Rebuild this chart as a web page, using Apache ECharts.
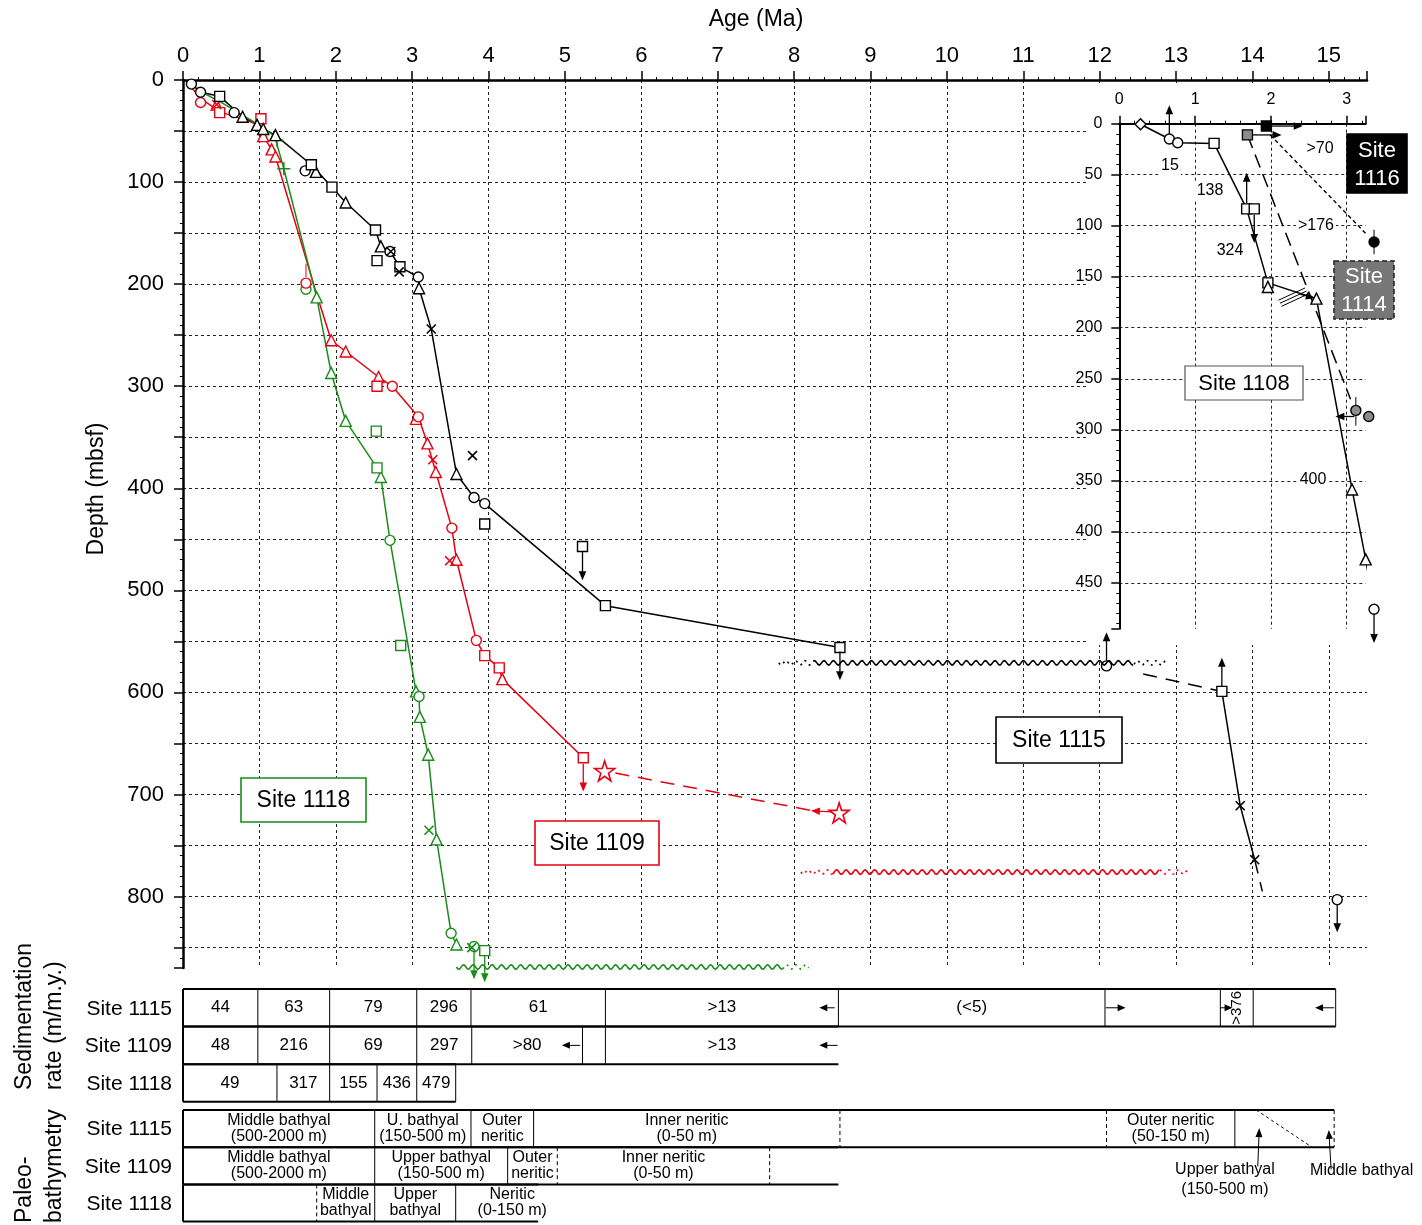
<!DOCTYPE html>
<html><head><meta charset="utf-8">
<script src="https://cdn.jsdelivr.net/npm/echarts@6/dist/echarts.min.js"></script>
<style>html,body{margin:0;padding:0;background:#fff}#c{width:1422px;height:1225px}</style>
</head><body><div id="c"></div>
<script>
const FONT = '"Liberation Sans", Arial, Helvetica, sans-serif';
const BLACK = '#000', RED = '#e60012', GREEN = '#1a8c1a', GRAY = '#8c8c8c';

// ---------- Main chart: Site 1115 (black) ----------
const s1115Line = [[0.11,4],[0.23,12],[0.48,16],[0.78,36],[0.97,44],[1.05,48],[1.21,54],[1.68,83],[1.95,105],[2.13,120],[2.52,147],[2.59,163],[2.71,168],[2.84,183],[3.08,193],[3.09,204],[3.25,244],[3.58,386],[3.81,409],[3.95,415],[5.53,515],[8.6,556]];
const s1115Circles = [[0.11,4],[0.23,12],[0.67,32],[1.6,89],[2.71,168],[3.08,193],[3.81,409],[3.95,415]];
const s1115Squares = [[0.48,16],[1.68,83],[1.95,105],[2.52,147],[2.54,177],[2.84,183],[3.95,435],[5.23,457],[5.53,515],[8.6,556]];
const s1115Triangles = [[0.78,36],[0.97,44],[1.05,48],[1.21,54],[1.74,90],[2.13,120],[2.59,163],[3.09,204],[3.58,386]];
const s1115Crosses = [[2.72,168],[2.83,188],[3.25,244],[3.79,368]];
const s1115DeepLine = [[13.6,599],[13.84,711],[14.03,764]];
const s1115DeepDashA = [[12.57,582],[13.6,599]];
const s1115DeepDashB = [[14.03,764],[14.13,795]];
const s1115DeepCircles = [[12.09,574],[15.11,803]];
const s1115DeepSquares = [[13.6,599]];
const s1115DeepCrosses = [[13.84,711],[14.03,764]];
const s1115Arrows = [[5.23,462,5.23,490],[8.6,560,8.6,588],[12.09,569,12.09,541],[13.6,594,13.6,566],[15.11,808,15.11,835]];
const s1115Hiatus = [[7.8,8.25,12.45,12.87,571]];

// ---------- Main chart: Site 1109 (red) ----------
const s1109Line = [[0.05,2],[0.23,18],[0.48,31],[1.0,44],[1.05,55],[1.16,68],[1.21,75],[1.75,210],[1.94,255],[2.13,266],[2.56,291],[2.74,300],[3.08,330],[3.2,356],[3.31,384],[3.52,439],[3.58,470],[3.84,549],[3.95,564],[4.14,576],[4.18,587],[5.24,664]];
const s1109Circles = [[0.23,22],[1.61,199],[2.74,300],[3.08,330],[3.52,439],[3.84,549]];
const s1109Squares = [[0.48,32],[1.02,38],[2.54,300],[3.95,564],[4.14,576],[5.24,664]];
const s1109Triangles = [[0.44,24],[1.05,55],[1.16,68],[1.21,75],[1.94,255],[2.13,266],[2.56,291],[3.05,332],[3.2,356],[3.31,384],[3.58,470],[4.18,587]];
const s1109Crosses = [[0.44,24],[3.27,372],[3.49,471]];
const s1109Stars = [[5.52,677],[8.59,718]];
const s1109Dash = [[5.66,679],[8.25,716]];
const s1109Arrows = [[5.24,670,5.24,697],[8.5,717,8.22,716]];
const s1109Bars = [[1.61,193,1.61,180]];
const s1109Hiatus = [[8.09,8.5,12.79,13.17,776]];

// ---------- Main chart: Site 1118 (green) ----------
const s1118Line = [[0.1,3],[0.25,12],[0.5,22],[0.95,42],[1.2,55],[1.32,87],[1.75,213],[1.94,287],[2.13,334],[2.54,380],[2.59,389],[2.71,451],[3.05,599],[3.09,604],[3.1,624],[3.21,661],[3.32,744],[3.51,836],[3.58,847]];
const s1118Circles = [[1.61,205],[2.71,451],[3.09,604],[3.51,836],[3.81,849]];
const s1118Squares = [[2.53,344],[2.54,380],[2.85,554],[3.95,853]];
const s1118Triangles = [[1.75,213],[1.94,287],[2.13,334],[2.59,389],[3.05,599],[3.1,624],[3.21,661],[3.32,744],[3.58,847]];
const s1118Crosses = [[3.22,735],[3.78,850]];
const s1118Plus = [[1.23,59],[1.32,87]];
const s1118Arrows = [[3.81,854,3.81,881],[3.95,858,3.95,884]];
const s1118Hiatus = [[3.58,3.58,7.85,8.2,869]];

// ---------- Inset: Sites 1108, 1114, 1116 ----------
const s1108Line = [[0.28,0.5],[0.66,15],[0.77,18.7],[1.25,19.3],[1.68,83.5],[1.96,156],[2.6,171.5],[3.07,358.5],[3.25,427],[3.36,476]];
const s1108Diamonds = [[0.28,0.5]];
const s1108Circles = [[0.66,15],[0.77,18.7],[3.36,476]];
const s1108Squares = [[1.25,19.3],[1.68,83.5],[1.78,83.5],[1.96,156]];
const s1108Triangles = [[1.96,160],[2.6,171.5],[3.07,358.5],[3.25,427]];
const s1108Arrows = [[0.66,10,0.66,-18],[1.68,78,1.68,48],[1.78,89,1.78,117],[3.36,481,3.36,509],[2.38,167,2.58,171]];
const s1108Hatch = [[2.1,173,2.45,161],[2.12,176,2.47,164],[2.14,179,2.49,167]];
const s1114Dash = [[1.69,11],[3.05,270]];
const s1114Squares = [[1.69,11]];
const s1114Circles = [[3.12,281],[3.29,287]];
const s1114Arrows = [[1.74,11,2.14,11],[3.1,287,2.85,287]];
const s1114Bars = [[3.12,268,3.12,296]];
const s1116Dash = [[1.99,11],[3.36,116]];
const s1116Squares = [[1.94,2.3]];
const s1116Circles = [[3.36,116]];
const s1116Arrows = [[1.99,2.3,2.42,2.3]];
const s1116Bars = [[3.36,104,3.36,128]];

// ---------- Sedimentation rate table ----------
const rowNames = ['Site 1115','Site 1109','Site 1118'];
const rate1115Bounds = [0,0.98,1.92,3.06,3.77,5.53,8.58,12.07,13.58,14.01,15.09];
const rate1115Labels = ['44','63','79','296','61','>13','(<5)','','|>376',''];
const rate1115Divs = ['s','s','s','s','s','s','s','s','s','s'];
const rate1109Bounds = [0,0.98,1.92,3.06,3.78,5.23,5.53,8.58];
const rate1109Labels = ['48','216','69','297','>80','','>13'];
const rate1109Divs = ['s','s','s','s','s','s','n'];
const rate1118Bounds = [0,1.23,1.92,2.54,3.06,3.57];
const rate1118Labels = ['49','317','155','436','479'];
const rate1118Divs = ['s','s','s','s','s'];
const rateArrows = [[8.53,0.5,8.33,0.5],[12.08,0.5,12.34,0.5],[13.58,0.5,13.74,0.5],[15.07,0.5,14.82,0.5],[5.2,1.5,4.96,1.5],[8.57,1.5,8.33,1.5]];

// ---------- Paleobathymetry table ----------
const bath1115Bounds = [0,2.51,3.77,4.59,8.6,12.09,13.77,15.07];
const bath1115Labels = ['Middle bathyal\n(500-2000 m)','U. bathyal\n(150-500 m)','Outer\nneritic','Inner neritic\n(0-50 m)','','Outer neritic\n(50-150 m)',''];
const bath1115Divs = ['s','s','s','d','d','s','d'];
const bath1109Bounds = [0,2.51,4.25,4.9,7.68,8.58];
const bath1109Labels = ['Middle bathyal\n(500-2000 m)','Upper bathyal\n(150-500 m)','Outer\nneritic','Inner neritic\n(0-50 m)',''];
const bath1109Divs = ['s','s','d','d','n'];
const bath1118Bounds = [0,1.75,2.51,3.57,5.05];
const bath1118Labels = ['','Middle\nbathyal','Upper\nbathyal','Neritic\n(0-150 m)'];
const bath1118Divs = ['d','s','s','n'];
const bathDiagonal = [[14.05,3.22,14.78,4.21]];
const bathArrows = [[14.07,4.72,14.09,3.7],[15.03,4.8,15.0,3.75]];
const bathNotes = [[13.64,5.08,'Upper bathyal\n(150-500 m)'],[15.43,4.82,'Middle bathyal']];

const tableRows = [
  {name:rowNames[0], y0:0, y1:1, bounds:rate1115Bounds, labels:rate1115Labels, divs:rate1115Divs, end:15.09, fs:17},
  {name:rowNames[1], y0:1, y1:2, bounds:rate1109Bounds, labels:rate1109Labels, divs:rate1109Divs, end:8.58, fs:17},
  {name:rowNames[2], y0:2, y1:3, bounds:rate1118Bounds, labels:rate1118Labels, divs:rate1118Divs, end:3.57, fs:17},
  {name:rowNames[0], y0:3.22, y1:4.21, bounds:bath1115Bounds, labels:bath1115Labels, divs:bath1115Divs, end:15.07, fs:16},
  {name:rowNames[1], y0:4.21, y1:5.2, bounds:bath1109Bounds, labels:bath1109Labels, divs:bath1109Divs, end:8.58, fs:16},
  {name:rowNames[2], y0:5.2, y1:6.19, bounds:bath1118Bounds, labels:bath1118Labels, divs:bath1118Divs, end:4.65, fs:16}
];

// ---------- symbols ----------
const X_SYM = 'path://M0,0L10,10M10,0L0,10';
const PLUS_SYM = 'path://M5,0L5,10M0,5L10,5';
const STAR_SYM = 'path://M50,2L61,36L97,36L68,57L79,92L50,71L21,92L32,57L3,36L39,36Z';

function txtStyle(text, size, fill, align, valign, extra){
  return Object.assign({text:text, fontSize:size, fontFamily:FONT, fill:fill||'#000',
    align:align||'center', verticalAlign:valign||'middle', textAlign:align||'center', textVerticalAlign:valign||'middle'}, extra||{});
}
function path(data, color, gi, dash, width, z){
  return {type:'line', xAxisIndex:gi, yAxisIndex:gi, data:data, symbol:'none', silent:true, z:z||2, clip:false,
    lineStyle:{color:color, width:width||1.5, type:dash||'solid'}};
}
function pts(data, sym, color, fill, size, gi, z, bw){
  return {type:'scatter', xAxisIndex:gi, yAxisIndex:gi, data:data, symbol:sym, symbolSize:size, silent:true, z:z||3, clip:false,
    itemStyle:{color:fill, borderColor:color, borderWidth:bw||1.4, opacity:1}};
}
function arrows(data, color, gi, o){
  o = o || {};
  const head = o.head !== false, hl = o.hl || 9, hw = o.hw || 3.8, lw = o.lw || 1.3;
  return {type:'custom', xAxisIndex:gi, yAxisIndex:gi, data:data, encode:{x:[0,2], y:[1,3]}, clip:false, silent:true, z:o.z||4,
    renderItem:function(params, api){
      const p1 = api.coord([api.value(0), api.value(1)]);
      const p2 = api.coord([api.value(2), api.value(3)]);
      const dx = p2[0]-p1[0], dy = p2[1]-p1[1], len = Math.hypot(dx,dy)||1;
      const ux = dx/len, uy = dy/len;
      const ch = [];
      const e = head ? [p2[0]-ux*hl*0.7, p2[1]-uy*hl*0.7] : p2;
      ch.push({type:'line', shape:{x1:p1[0],y1:p1[1],x2:e[0],y2:e[1]}, style:{stroke:color, lineWidth:lw, lineDash:o.dash||null}});
      if (head){
        const bx = p2[0]-ux*hl, by = p2[1]-uy*hl;
        ch.push({type:'polygon', shape:{points:[[p2[0],p2[1]],[bx-uy*hw,by+ux*hw],[bx+uy*hw,by-ux*hw]]}, style:{fill:color}});
      }
      return {type:'group', children:ch};
    }};
}
function hiatus(data, color, gi){
  return {type:'custom', xAxisIndex:gi, yAxisIndex:gi, data:data, encode:{x:[0,1,2,3], y:4}, clip:false, silent:true, z:4,
    renderItem:function(params, api){
      const y = api.coord([api.value(0), api.value(4)])[1];
      const xs = [0,1,2,3].map(function(i){return api.coord([api.value(i), api.value(4)])[0];});
      const x0 = xs[0];
      const wave = function(a,b){const p=[]; for(let x=a; x<=b+0.01; x+=1){p.push([x, y+2.2*Math.sin(2*Math.PI*(x-x0)/9.5)]);} return p;};
      const ch = [];
      if (xs[1]-xs[0] > 1) ch.push({type:'polyline', shape:{points:wave(xs[0],xs[1])}, style:{stroke:color, lineWidth:1.6, fill:'none', lineDash:[2,4]}});
      ch.push({type:'polyline', shape:{points:wave(xs[1],xs[2])}, style:{stroke:color, lineWidth:1.6, fill:'none'}});
      if (xs[3]-xs[2] > 1) ch.push({type:'polyline', shape:{points:wave(xs[2],xs[3])}, style:{stroke:color, lineWidth:1.6, fill:'none', lineDash:[2,4]}});
      return {type:'group', children:ch};
    }};
}
function tableSeries(){
  return {type:'custom', xAxisIndex:2, yAxisIndex:2, data:tableRows.map(function(r,i){return [0,r.y0];}), encode:{x:0,y:1},
    clip:false, silent:true, z:3,
    renderItem:function(params, api){
      const r = tableRows[params.dataIndex];
      const L = api.coord([0, r.y0]), R = api.coord([r.end, r.y1]);
      const ch = [];
      ch.push({type:'line', shape:{x1:L[0],y1:L[1],x2:R[0],y2:L[1]}, style:{stroke:'#000', lineWidth:2}});
      ch.push({type:'line', shape:{x1:L[0],y1:R[1],x2:R[0],y2:R[1]}, style:{stroke:'#000', lineWidth:2}});
      ch.push({type:'line', shape:{x1:L[0],y1:L[1],x2:L[0],y2:R[1]}, style:{stroke:'#000', lineWidth:2}});
      for (let i=1; i<r.bounds.length; i++){
        const d = r.divs[i-1]; if (d === 'n') continue;
        const x = api.coord([r.bounds[i], r.y0])[0];
        ch.push({type:'line', shape:{x1:x,y1:L[1],x2:x,y2:R[1]}, style:{stroke:'#000', lineWidth:1, lineDash:d==='d'?[4,3]:null}});
      }
      const ym = (L[1]+R[1])/2;
      for (let i=0; i<r.labels.length; i++){
        let t = r.labels[i]; if (!t) continue;
        const xm = (api.coord([r.bounds[i], r.y0])[0] + api.coord([r.bounds[i+1], r.y0])[0])/2;
        if (t.charAt(0) === '|'){
          t = t.slice(1);
          ch.push({type:'text', x:xm, y:ym, rotation:Math.PI/2, style:txtStyle(t, 15, '#000')});
        } else {
          ch.push({type:'text', x:xm, y:ym, style:txtStyle(t, r.fs, '#000', 'center', 'middle', {lineHeight:16})});
        }
      }
      ch.push({type:'text', x:L[0]-11, y:ym+1, style:txtStyle(r.name, 21, '#000', 'right', 'middle')});
      return {type:'group', children:ch};
    }};
}
function notesSeries(){
  return {type:'custom', xAxisIndex:2, yAxisIndex:2, data:bathNotes.map(function(n){return [n[0],n[1]];}), encode:{x:0,y:1},
    clip:false, silent:true, z:3,
    renderItem:function(params, api){
      const p = api.coord([api.value(0), api.value(1)]);
      return {type:'text', x:p[0], y:p[1], style:txtStyle(bathNotes[params.dataIndex][2], 16, '#000', 'center', 'middle', {lineHeight:20})};
    }};
}

// ---------- axes ----------
const gridLine = {show:true, showMinLine:false, showMaxLine:false, lineStyle:{color:'#222', width:1, type:[3,3]}};
const xAxes = [
  {gridIndex:0, type:'value', position:'top', min:0, max:15.5, interval:1,
   axisLine:{show:true, lineStyle:{color:'#000', width:2.5}},
   axisTick:{show:true, inside:false, length:9, lineStyle:{color:'#000', width:1.5}},
   minorTick:{show:true, splitNumber:5, length:3, lineStyle:{color:'#000', width:1}},
   axisLabel:{fontSize:22, fontFamily:FONT, color:'#000', margin:13, formatter:function(v){return (v%1===0)?String(v):'';}},
   splitLine:gridLine},
  {gridIndex:1, type:'value', position:'top', min:0, max:3.25, interval:1, z:3,
   axisLine:{show:true, lineStyle:{color:'#000', width:2}},
   axisTick:{show:true, inside:false, length:8, lineStyle:{color:'#000', width:1.5}},
   minorTick:{show:true, splitNumber:5, length:3, lineStyle:{color:'#000', width:1}},
   axisLabel:{fontSize:16, fontFamily:FONT, color:'#000', margin:16, formatter:function(v){return (v%1===0)?String(v):'';}},
   splitLine:gridLine},
  {gridIndex:2, type:'value', min:0, max:15.5, show:false}
];
const yAxes = [
  {gridIndex:0, type:'value', inverse:true, min:0, max:870, interval:50,
   axisLine:{show:true, lineStyle:{color:'#000', width:2.5}},
   axisTick:{show:true, inside:false, length:9, lineStyle:{color:'#000', width:1.5}},
   minorTick:{show:true, splitNumber:5, length:3, lineStyle:{color:'#000', width:1}},
   axisLabel:{fontSize:22, fontFamily:FONT, color:'#000', margin:19, formatter:function(v){return (v%100===0 && v<=800)?String(v):'';}},
   splitLine:gridLine},
  {gridIndex:1, type:'value', inverse:true, min:0, max:495, interval:50, z:3,
   axisLine:{show:true, lineStyle:{color:'#000', width:2}},
   axisTick:{show:true, inside:false, length:8, lineStyle:{color:'#000', width:1.5}},
   minorTick:{show:true, splitNumber:5, length:3, lineStyle:{color:'#000', width:1}},
   axisLabel:{fontSize:16, fontFamily:FONT, color:'#000', margin:17, formatter:function(v){return (v%50===0 && v<=450)?String(v):'';}},
   splitLine:gridLine},
  {gridIndex:2, type:'value', inverse:true, min:0, max:6.2, show:false}
];

// ---------- annotation graphics ----------
function boxG(x,y,w,h,stroke,fill,text,color,fs,dash,lw){
  return [
    {type:'rect', z:20, shape:{x:x,y:y,width:w,height:h}, style:{fill:fill, stroke:stroke, lineWidth:lw||1.6, lineDash:dash||null}},
    {type:'text', z:21, x:x+w/2, y:y+h/2+1, style:txtStyle(text, fs||23, color||'#000', 'center', 'middle', {lineHeight:28})}
  ];
}
function noteG(x,y,t){
  return {type:'text', z:21, x:x, y:y, style:txtStyle(t, 16, '#000', 'center', 'middle', {backgroundColor:'#fff', padding:[1,2]})};
}
const graphics = [].concat(
  [{type:'rect', z:1, shape:{x:1086,y:84,width:336,height:561}, style:{fill:'#fff'}}],
  [{type:'text', z:21, x:756, y:20, style:txtStyle('Age (Ma)', 23, '#000')}],
  [{type:'text', z:21, x:97, y:489, rotation:Math.PI/2, style:txtStyle('Depth (mbsf)', 23, '#000')}],
  [{type:'text', z:21, x:25, y:1090, rotation:Math.PI/2, style:txtStyle('Sedimentation', 23, '#000', 'left', 'middle')}],
  [{type:'text', z:21, x:55, y:1090, rotation:Math.PI/2, style:txtStyle('rate (m/m.y.)', 23, '#000', 'left', 'middle')}],
  [{type:'text', z:21, x:25, y:1223, rotation:Math.PI/2, style:txtStyle('Paleo-', 23, '#000', 'left', 'middle')}],
  [{type:'text', z:21, x:55, y:1223, rotation:Math.PI/2, style:txtStyle('bathymetry', 23, '#000', 'left', 'middle')}],
  boxG(241,778,125,44,GREEN,'#fff','Site 1118','#000',23),
  boxG(535,821,124,44,RED,'#fff','Site 1109','#000',23),
  boxG(996,717,126,46,'#000','#fff','Site 1115','#000',23),
  boxG(1185,366,118,34,'#555','#fff','Site 1108','#000',22,null,1.2),
  boxG(1347,134,60,59,'#000','#000','Site\n1116','#fff',22),
  boxG(1334,261,60,58,'#222','#777','Site\n1114','#fff',22,[5,3],1.6),
  [noteG(1170,166,'15'), noteG(1210,191,'138'), noteG(1230,251,'324'), noteG(1320,149,'>70'), noteG(1316,226,'>176'), noteG(1313,480,'400')]
);

// ---------- series ----------
const series = [
  // Site 1115
  path(s1115Line, BLACK, 0),
  path(s1115DeepLine, BLACK, 0),
  path(s1115DeepDashA, BLACK, 0, [14,9]),
  path(s1115DeepDashB, BLACK, 0, [14,9]),
  // Site 1109
  path(s1109Line, RED, 0),
  path(s1109Dash, RED, 0, [14,9]),
  // Site 1118
  path(s1118Line, GREEN, 0),
  hiatus(s1115Hiatus, BLACK, 0),
  hiatus(s1109Hiatus, RED, 0),
  hiatus(s1118Hiatus, GREEN, 0),
  arrows(s1115Arrows, BLACK, 0),
  arrows(s1109Arrows, RED, 0),
  arrows(s1109Bars, RED, 0, {head:false, lw:1}),
  arrows(s1118Arrows, GREEN, 0),
  pts(s1118Triangles, 'triangle', GREEN, '#fff', 11, 0),
  pts(s1118Circles, 'circle', GREEN, '#fff', 10, 0),
  pts(s1118Squares, 'rect', GREEN, '#fff', 10, 0),
  pts(s1118Crosses, X_SYM, GREEN, 'rgba(0,0,0,0)', 9, 0, 3, 1.6),
  pts(s1118Plus, PLUS_SYM, GREEN, 'rgba(0,0,0,0)', 13, 0, 3, 1.6),
  pts(s1109Triangles, 'triangle', RED, '#fff', 11, 0),
  pts(s1109Circles, 'circle', RED, '#fff', 10, 0),
  pts(s1109Squares, 'rect', RED, '#fff', 10, 0),
  pts(s1109Crosses, X_SYM, RED, 'rgba(0,0,0,0)', 9, 0, 3, 1.6),
  pts(s1109Stars, STAR_SYM, RED, '#fff', 20, 0, 3, 1.6),
  pts(s1115Triangles, 'triangle', BLACK, '#fff', 11, 0),
  pts(s1115Circles, 'circle', BLACK, '#fff', 10, 0),
  pts(s1115Squares, 'rect', BLACK, '#fff', 10, 0),
  pts(s1115Crosses, X_SYM, BLACK, 'rgba(0,0,0,0)', 9, 0, 3, 1.6),
  pts(s1115DeepCircles, 'circle', BLACK, '#fff', 10, 0),
  pts(s1115DeepSquares, 'rect', BLACK, '#fff', 10, 0),
  pts(s1115DeepCrosses, X_SYM, BLACK, 'rgba(0,0,0,0)', 9, 0, 3, 1.6),
  // Inset
  path(s1108Line, BLACK, 1, 'solid', 1.5, 5),
  path(s1114Dash, BLACK, 1, [14,7], 1.5, 5),
  path(s1116Dash, BLACK, 1, [4,3], 1.4, 5),
  arrows(s1108Arrows, BLACK, 1, {z:6}),
  arrows(s1108Hatch, BLACK, 1, {head:false, lw:1, z:6}),
  arrows(s1114Arrows, BLACK, 1, {z:6}),
  arrows(s1114Bars, BLACK, 1, {head:false, lw:1, z:6}),
  arrows(s1116Arrows, BLACK, 1, {z:6}),
  arrows(s1116Bars, BLACK, 1, {head:false, lw:1, z:6}),
  pts(s1108Diamonds, 'diamond', BLACK, '#fff', 11, 1, 7),
  pts(s1108Circles, 'circle', BLACK, '#fff', 10, 1, 7),
  pts(s1108Squares, 'rect', BLACK, '#fff', 10, 1, 7),
  pts(s1108Triangles, 'triangle', BLACK, '#fff', 11, 1, 7),
  pts(s1114Squares, 'rect', BLACK, GRAY, 10, 1, 7),
  pts(s1114Circles, 'circle', BLACK, GRAY, 10, 1, 7),
  pts(s1116Squares, 'rect', BLACK, BLACK, 10, 1, 7),
  pts(s1116Circles, 'circle', BLACK, BLACK, 10, 1, 7),
  // Tables
  tableSeries(),
  arrows(rateArrows, BLACK, 2, {hl:8, hw:3.5, lw:1}),
  arrows(bathDiagonal, BLACK, 2, {head:false, lw:1, dash:[3,3]}),
  arrows(bathArrows, BLACK, 2, {hl:9, hw:3.5, lw:1}),
  notesSeries()
];

const chart = echarts.init(document.getElementById('c'), null, {renderer:'canvas'});
chart.setOption({
  animation:false,
  backgroundColor:'#fff',
  textStyle:{fontFamily:FONT},
  grid:[
    {left:183, top:80, width:1184, height:888},
    {left:1119.3, top:123.7, width:246.4, height:505},
    {left:183, top:989, width:1184, height:233}
  ],
  xAxis:xAxes,
  yAxis:yAxes,
  graphic:graphics,
  series:series
});
</script></body></html>
